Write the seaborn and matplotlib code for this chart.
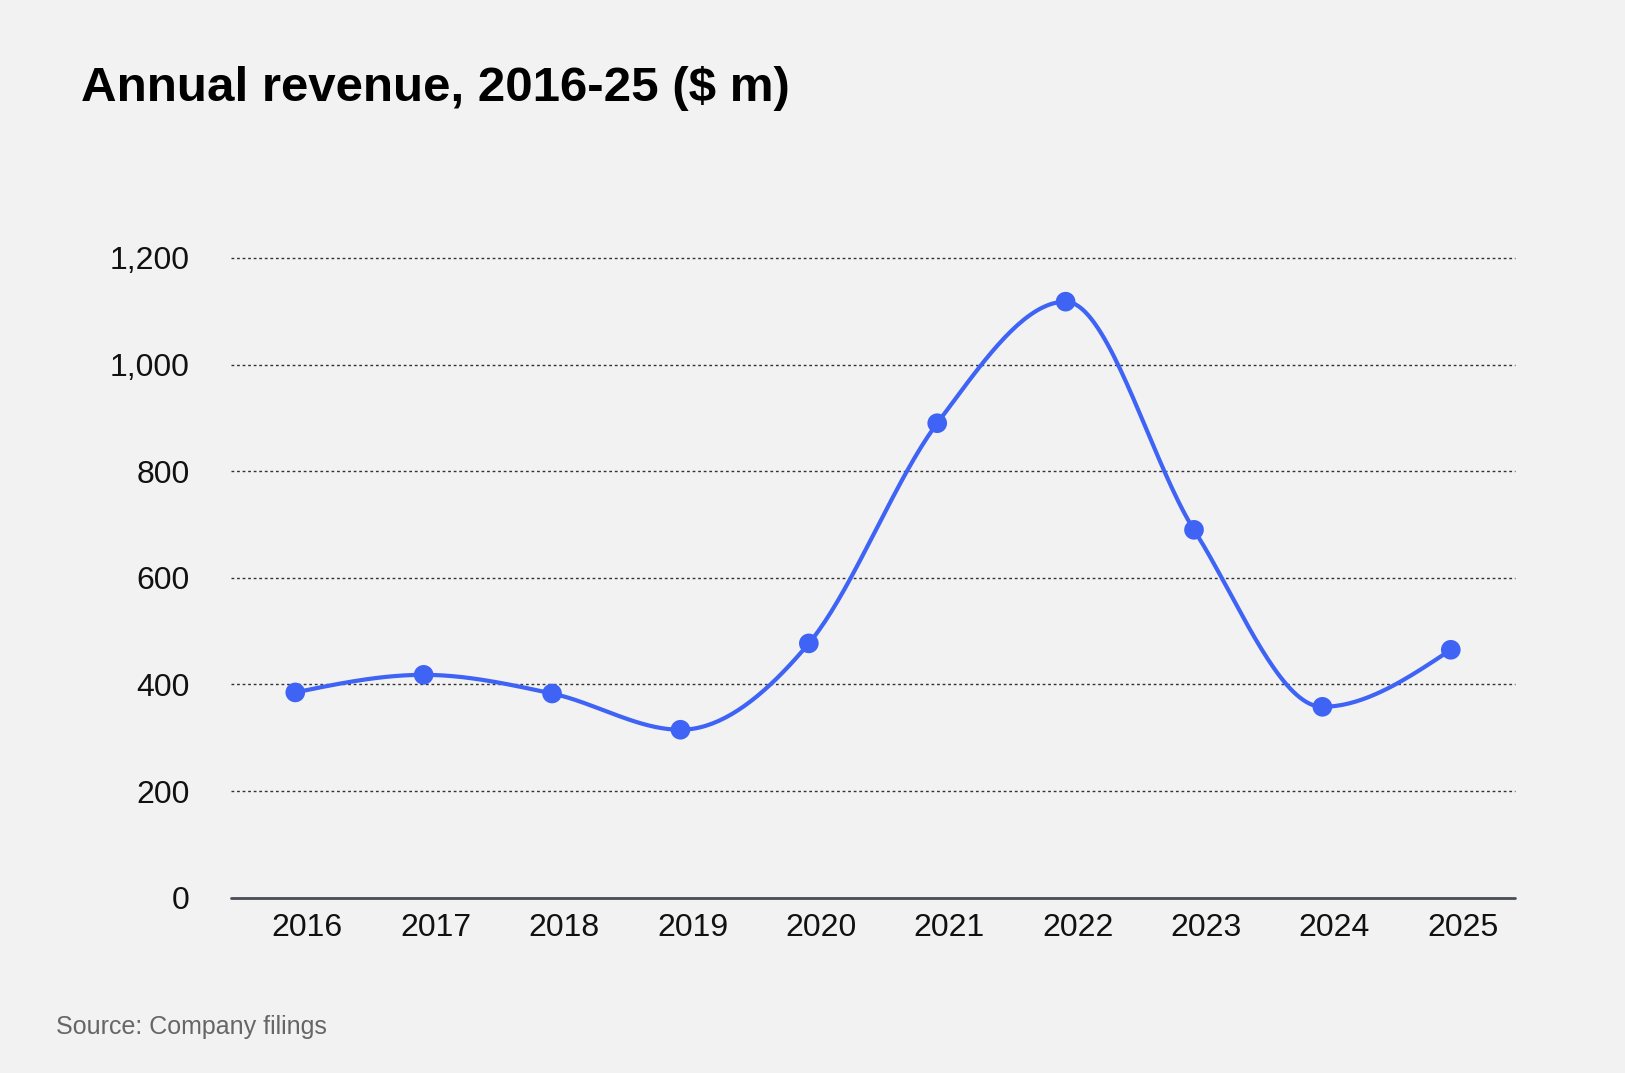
import numpy as np
import pandas as pd
import matplotlib
matplotlib.use("Agg")
import matplotlib.pyplot as plt
import matplotlib.transforms as mtransforms
import seaborn as sns

# Данные
years = [2016, 2017, 2018, 2019, 2020, 2021, 2022, 2023, 2024, 2025]
revenue = [385, 418, 383, 315, 477, 890, 1118, 690, 358, 465]
y_ticks = [0, 200, 400, 600, 800, 1000, 1200]
y_tick_labels = ["0", "200", "400", "600", "800", "1,000", "1,200"]

title = "Annual revenue, 2016-25 ($ m)"
source = "Source: Company filings"

BG = "#f2f2f2"
BLUE = "#3e63f5"


# Сглаживание кривой (monotone X, как в d3)
def monotone_curve(x, y, steps=40):
    x = np.asarray(x, float)
    y = np.asarray(y, float)
    h = np.diff(x)
    s = np.diff(y) / h
    n = len(x)
    t = np.zeros(n)
    for i in range(1, n - 1):
        p = (s[i - 1] * h[i] + s[i] * h[i - 1]) / (h[i - 1] + h[i])
        t[i] = (np.sign(s[i - 1]) + np.sign(s[i])) * min(abs(s[i - 1]), abs(s[i]), 0.5 * abs(p))
    t[0] = (3 * s[0] - t[1]) / 2
    t[-1] = (3 * s[-1] - t[-2]) / 2
    xs, ys = [], []
    for i in range(n - 1):
        u = np.linspace(0, 1, steps, endpoint=(i == n - 2))
        h00 = 2 * u**3 - 3 * u**2 + 1
        h10 = u**3 - 2 * u**2 + u
        h01 = -2 * u**3 + 3 * u**2
        h11 = u**3 - u**2
        xs.append(x[i] + u * h[i])
        ys.append(h00 * y[i] + h10 * h[i] * t[i] + h01 * y[i + 1] + h11 * h[i] * t[i + 1])
    return np.concatenate(xs), np.concatenate(ys)


sx, sy = monotone_curve(years, revenue)
curve_df = pd.DataFrame({"year": sx, "revenue": sy})
points_df = pd.DataFrame({"year": years, "revenue": revenue})

sns.set_theme(style="white")
plt.rcParams["font.family"] = ["Liberation Sans", "DejaVu Sans"]

fig = plt.figure(figsize=(16.25, 10.73), dpi=100, facecolor=BG)
ax = fig.add_axes([0.1422, 0.1634, 0.7901, 0.5962])
ax.set_facecolor(BG)

# Сетка
for v in y_ticks[1:]:
    ax.axhline(v, color="#333333", lw=1.0, ls=(0, (2, 2)), zorder=1, clip_on=False)
ax.axhline(0, color="#4a4d55", lw=2.0, zorder=2, clip_on=False)

sns.lineplot(data=curve_df, x="year", y="revenue", sort=False, color=BLUE,
             lw=3.0, ax=ax, zorder=3)
sns.scatterplot(data=points_df, x="year", y="revenue", color=BLUE, s=200,
                edgecolor="none", ax=ax, zorder=4, clip_on=False)

ax.set_xlim(2015.5, 2025.5)
ax.set_ylim(0, 1200)
ax.set_xticks(years)
ax.set_xticklabels([str(y) for y in years])
ax.set_yticks(y_ticks)
ax.set_yticklabels(y_tick_labels)
ax.tick_params(axis="both", length=0, labelsize=23, colors="#111111")
ax.tick_params(axis="x", pad=11)
ax.tick_params(axis="y", pad=30)
ax.set_xlabel("")
ax.set_ylabel("")
for sp in ax.spines.values():
    sp.set_visible(False)

# подписи по оси X чуть правее точек
offset = mtransforms.ScaledTranslation(12 / 100, 0, fig.dpi_scale_trans)
for lbl in ax.get_xticklabels():
    lbl.set_transform(lbl.get_transform() + offset)

fig.text(0.0497, 0.906, title, fontsize=35.5, fontweight="bold", color="#000000",
         ha="left", va="baseline")
fig.text(0.0344, 0.036, source, fontsize=18, color="#666666",
         ha="left", va="baseline")

fig.savefig("out.png", dpi=100, facecolor=BG)
plt.close()
